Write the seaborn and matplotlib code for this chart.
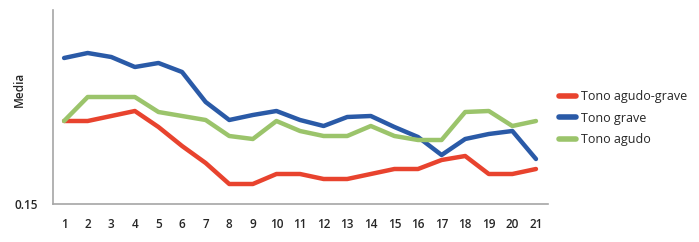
import numpy as np
import pandas as pd
import seaborn as sns
import matplotlib
matplotlib.use("Agg")
import matplotlib.pyplot as plt

sessions = list(range(1, 22))
series_names = ["Tono agudo-grave", "Tono grave", "Tono agudo"]
agudo_grave = [0.233, 0.233, 0.238, 0.243, 0.227, 0.208, 0.191, 0.170, 0.170, 0.180, 0.180,
               0.175, 0.175, 0.180, 0.185, 0.185, 0.194, 0.198, 0.180, 0.180, 0.185]
grave = [0.296, 0.301, 0.297, 0.287, 0.291, 0.282, 0.252, 0.234, 0.239, 0.243, 0.234,
         0.228, 0.237, 0.238, 0.227, 0.217, 0.199, 0.215, 0.220, 0.223, 0.195]
agudo = [0.233, 0.257, 0.257, 0.257, 0.242, 0.238, 0.234, 0.218, 0.215, 0.233, 0.223,
         0.218, 0.218, 0.228, 0.218, 0.214, 0.214, 0.242, 0.243, 0.228, 0.233]
colors = ["#E8432E", "#2A5AA7", "#9BC46B"]

df = pd.DataFrame({
    "x": sessions * 3,
    "Media": agudo_grave + grave + agudo,
    "serie": sum([[n] * len(sessions) for n in series_names], []),
})

sns.set_style("white")
plt.rcParams["font.family"] = ["Open Sans", "DejaVu Sans"]

fig = plt.figure(figsize=(6.99, 2.42), dpi=100)
ax = fig.add_axes([53 / 699, 38 / 242, 495 / 699, 194 / 242])

sns.lineplot(data=df, x="x", y="Media", hue="serie", hue_order=series_names,
             palette=colors, linewidth=3.2, ax=ax, legend=True)

ax.set_xlim(0.53, 21.51)
ax.set_ylim(0.15, 0.344)
ax.set_xticks(sessions)
ax.set_xticklabels([str(s) for s in sessions], fontsize=8.5, fontweight="semibold")
ax.set_yticks([0.15])
ax.set_yticklabels(["0.15"], fontsize=8.5, fontweight="semibold")
ax.tick_params(axis="both", length=0)
ax.tick_params(axis="x", pad=10)
ax.tick_params(axis="y", pad=11)
ax.set_xlabel("")
ax.set_ylabel("Media", fontsize=8.5, fontweight="semibold")
ax.yaxis.set_label_coords(-0.055, 0.59)

for s in ["top", "right"]:
    ax.spines[s].set_visible(False)
for s in ["left", "bottom"]:
    ax.spines[s].set_color("#A6A6A6")
    ax.spines[s].set_linewidth(1.2)

leg = ax.legend(loc="center left", bbox_to_anchor=(1.0, 0.443), frameon=False,
                fontsize=9, handlelength=1.3, handletextpad=0.45, labelspacing=0.68)
for line in leg.get_lines():
    line.set_linewidth(4)

fig.savefig("out.png", dpi=100)
